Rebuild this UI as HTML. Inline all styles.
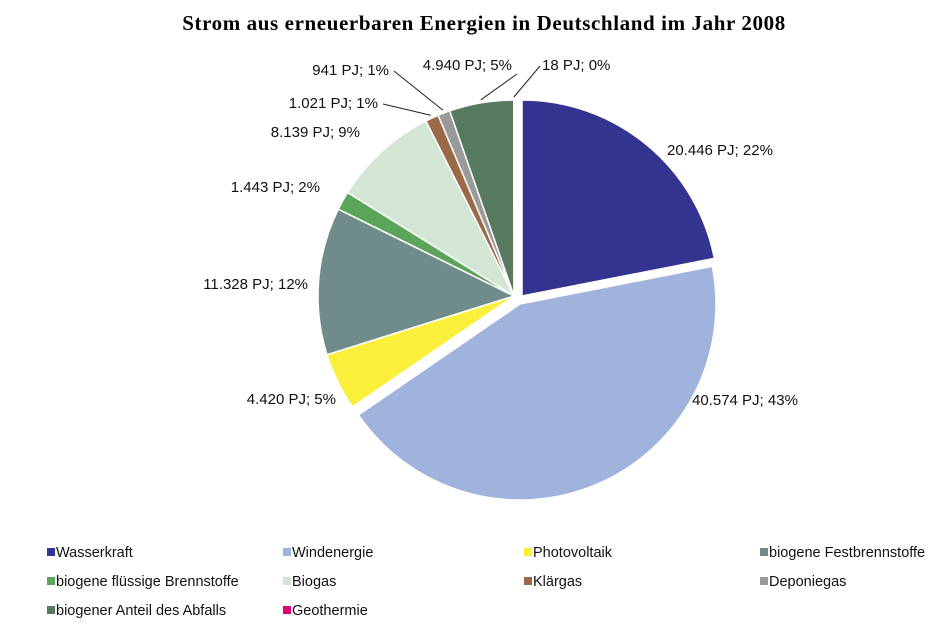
<!DOCTYPE html>
<html><head><meta charset="utf-8"><style>
body{margin:0;background:#fff;width:944px;height:625px;overflow:hidden}
svg text{font-family:"Liberation Sans",sans-serif}
</style></head><body>
<svg id="c" width="944" height="625">
<text x="484" y="30" text-anchor="middle" style="font-family:'Liberation Serif',serif;font-weight:bold;font-size:21px;letter-spacing:0.6px">Strom aus erneuerbaren Energien in Deutschland im Jahr 2008</text>
</svg>
<script>
const categories=["Wasserkraft","Windenergie","Photovoltaik","biogene Festbrennstoffe","biogene flüssige Brennstoffe","Biogas","Klärgas","Deponiegas","biogener Anteil des Abfalls","Geothermie"];
const values=[20446,40574,4420,11328,1443,8139,1021,941,4940,18];
const valueLabels=["20.446 PJ; 22%","40.574 PJ; 43%","4.420 PJ; 5%","11.328 PJ; 12%","1.443 PJ; 2%","8.139 PJ; 9%","1.021 PJ; 1%","941 PJ; 1%","4.940 PJ; 5%","18 PJ; 0%"];
const colors=["#333390","#9fb3dc","#faf03c","#708c8a","#5aa55a","#d3e6d3","#9a6a48","#9a9a9a","#577a5e","#e0007a"];
const labelPos=[[667,155,"start"],[692,405,"start"],[336,404,"end"],[308,289,"end"],[320,192,"end"],[360,137,"end"],[378,108,"end"],[389,75,"end"],[512,70,"end"],[542,70,"start"]];
const explode=[[8,0],[6,8],[0,0],[0,0],[0,0],[0,0],[0,0],[0,0],[0,0],[0,0]];
const legendCols=[47,283,524,760],legendRows=[553,582,611];
const svg=document.getElementById('c'),NS="http://www.w3.org/2000/svg";
const cx=514,cy=296,R=196;
const total=values.reduce((a,b)=>a+b,0);
function pt(a,r,ox,oy){return[cx+ox+r*Math.sin(a),cy+oy-r*Math.cos(a)];}
let ang=0;
values.forEach((v,i)=>{
  const a0=ang,a1=ang+v/total*2*Math.PI;ang=a1;
  const [ox,oy]=explode[i];
  const p0=pt(a0,R,ox,oy),p1=pt(a1,R,ox,oy);
  const path=document.createElementNS(NS,'path');
  path.setAttribute('d',`M${cx+ox},${cy+oy}L${p0[0]},${p0[1]}A${R},${R} 0 ${a1-a0>Math.PI?1:0} 1 ${p1[0]},${p1[1]}Z`);
  path.setAttribute('fill',colors[i]);path.setAttribute('stroke','#fff');path.setAttribute('stroke-width','1.5');
  
  
  svg.appendChild(path);
  const [lx,ly,anc]=labelPos[i];
  const t=document.createElementNS(NS,'text');
  t.setAttribute('x',lx);t.setAttribute('y',ly);t.setAttribute('text-anchor',anc);t.setAttribute('font-size','15');t.setAttribute('fill','#111');
  t.textContent=valueLabels[i];
  
  
  svg.appendChild(t);
  if(i>=6){
    const m=pt((a0+a1)/2,R+3,ox,oy);
    const sx=anc==="end"?lx+5:lx-2,sy=ly-4;
    const ln=document.createElementNS(NS,'line');
    ln.setAttribute('x1',sx);ln.setAttribute('y1',sy+(i==8?8:0));ln.setAttribute('x2',m[0]);ln.setAttribute('y2',m[1]);
    ln.setAttribute('stroke','#222');ln.setAttribute('stroke-width','1');
    
    
    svg.appendChild(ln);
  }
});
categories.forEach((c,i)=>{
  const x=legendCols[i%4],y=legendRows[Math.floor(i/4)];
  const r=document.createElementNS(NS,'rect');
  r.setAttribute('x',x);r.setAttribute('y',y-5);r.setAttribute('width',8);r.setAttribute('height',8);r.setAttribute('fill',colors[i]);
  
  
  svg.appendChild(r);
  const t=document.createElementNS(NS,'text');
  t.setAttribute('x',x+9);t.setAttribute('y',y+4);t.setAttribute('font-size','14.5');t.setAttribute('fill','#111');
  t.textContent=c;
  
  
  svg.appendChild(t);
});
</script>
</body></html>
